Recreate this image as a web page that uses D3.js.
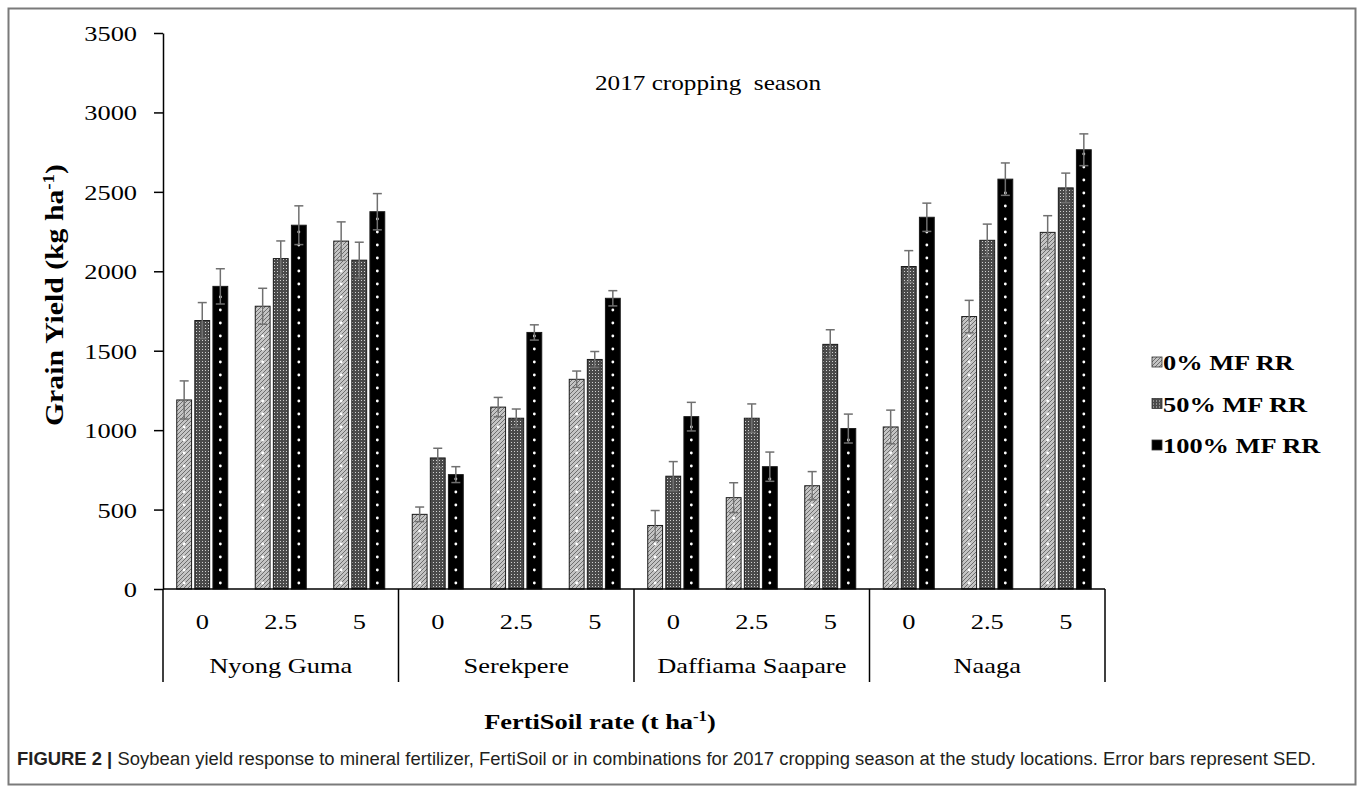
<!DOCTYPE html>
<html>
<head>
<meta charset="utf-8">
<script src="https://cdn.jsdelivr.net/npm/d3@7"></script>
<style>
  html, body { margin: 0; padding: 0; background: #fff; }
  svg { display: block; }
</style>
</head>
<body>
<svg id="chart" width="1358" height="792"></svg>
<script>
// Soybean grain yield, 2017 season, by site and FertiSoil rate
const sites = ["Nyong Guma", "Serekpere", "Daffiama Saapare", "Naaga"];
const rates = ["0", "2.5", "5"];
const seriesNames = ["0% MF RR", "50% MF RR", "100% MF RR"];

// grain yield (kg/ha), in site-by-rate order
const yield0 = [1190, 1780, 2190, 470, 1145, 1320, 400, 575, 650, 1020, 1715, 2245];
const yield50 = [1690, 2080, 2070, 825, 1075, 1445, 710, 1075, 1540, 2030, 2195, 2525];
const yield100 = [1905, 2290, 2375, 720, 1615, 1830, 1085, 770, 1010, 2340, 2580, 2765];

// SED error bars
const sed0 = [120, 113, 121, 46, 61, 52, 94, 94, 89, 106, 102, 105];
const sed50 = [113, 111, 113, 61, 58, 50, 92, 90, 92, 100, 102, 93];
const sed100 = [111, 122, 114, 50, 48, 48, 90, 92, 91, 89, 102, 100];

const yTicks = [0, 500, 1000, 1500, 2000, 2500, 3000, 3500];

const serif = "'Liberation Serif', 'Times New Roman', serif";
const sx = 1.2; // horizontal stretch of the lettering

const svg = d3.select("#chart");

// frame
svg.append("rect")
  .attr("x", 8.5).attr("y", 8.5).attr("width", 1347).attr("height", 776)
  .attr("fill", "none").attr("stroke", "#7a7a7a").attr("stroke-width", 2);

// fill patterns
const defs = svg.append("defs");
const p0 = defs.append("pattern").attr("id", "pat0").attr("patternUnits", "userSpaceOnUse")
  .attr("width", 4).attr("height", 4);
p0.append("rect").attr("width", 4).attr("height", 4).attr("fill", "#c4c4c4");
p0.append("path").attr("d", "M0,4 L4,0 M-1,1 L1,-1 M3,5 L5,3").attr("stroke", "#6e6e6e").attr("stroke-width", 1);

const p1 = defs.append("pattern").attr("id", "pat1").attr("patternUnits", "userSpaceOnUse")
  .attr("width", 3).attr("height", 3);
p1.append("rect").attr("width", 3).attr("height", 3).attr("fill", "#4a4a4a");
p1.append("rect").attr("x", 1).attr("y", 1).attr("width", 1).attr("height", 1).attr("fill", "#d0d0d0");

const fills = ["url(#pat0)", "url(#pat1)", "#000"];
const dotColumn = [true, false, true];

// layout
const x0 = 163, x1 = 1105, yBase = 589, yTop = 33;

const keys = [];
sites.forEach(s => rates.forEach(r => keys.push(s + "|" + r)));

const xSlot = d3.scaleBand().domain(keys).range([x0, x1]).paddingInner(0).paddingOuter(0);
const xSite = d3.scaleBand().domain(sites).range([x0, x1]);
const xSeries = d3.scaleBand().domain(seriesNames).range([-25.5, 25.5]).paddingInner(0.18);
const y = d3.scaleLinear().domain([0, 3500]).range([yBase, yTop]);

const seriesValues = [yield0, yield50, yield100];
const seriesErr = [sed0, sed50, sed100];

const rows = [];
seriesNames.forEach((name, si) => {
  keys.forEach((k, i) => {
    rows.push({ series: name, si, key: k, value: seriesValues[si][i], err: seriesErr[si][i] });
  });
});

const bw = xSeries.bandwidth();
const barX = d => xSlot(d.key) + xSlot.bandwidth() / 2 + xSeries(d.series);

const plot = svg.append("g");

plot.selectAll("rect.bar").data(rows).join("rect")
  .attr("class", "bar")
  .attr("x", barX)
  .attr("y", d => y(d.value))
  .attr("width", bw)
  .attr("height", d => y(0) - y(d.value))
  .attr("fill", d => fills[d.si])
  .attr("stroke", "#1a1a1a")
  .attr("stroke-width", 1);

// white dot columns inside the patterned bars
rows.filter(d => dotColumn[d.si]).forEach(d => {
  const cx = barX(d) + bw / 2;
  const h = y(0) - y(d.value);
  const dots = d3.range(6, h - 3, 13);
  plot.selectAll(null).data(dots).join("circle")
    .attr("cx", cx).attr("cy", v => y(0) - v)
    .attr("r", 1.4).attr("fill", "#fff");
});

// error bars
const eb = plot.selectAll("g.err").data(rows).join("g").attr("class", "err")
  .attr("stroke", "#707070").attr("stroke-width", 1.5);
eb.append("line")
  .attr("x1", d => barX(d) + bw / 2).attr("x2", d => barX(d) + bw / 2)
  .attr("y1", d => y(d.value - d.err)).attr("y2", d => y(d.value + d.err));
eb.append("line")
  .attr("x1", d => barX(d) + bw / 2 - 4.5).attr("x2", d => barX(d) + bw / 2 + 4.5)
  .attr("y1", d => y(d.value + d.err)).attr("y2", d => y(d.value + d.err));
eb.append("line")
  .attr("x1", d => barX(d) + bw / 2 - 4.5).attr("x2", d => barX(d) + bw / 2 + 4.5)
  .attr("y1", d => y(d.value - d.err)).attr("y2", d => y(d.value - d.err));

// y axis
const yAxis = svg.append("g")
  .attr("transform", `translate(${x0},0)`)
  .call(d3.axisLeft(y).tickValues(yTicks).tickSize(9).tickSizeOuter(0).tickPadding(0).tickFormat(d3.format("d")));
yAxis.select(".domain").attr("stroke", "#000").attr("stroke-width", 1.5);
yAxis.selectAll(".tick line").attr("stroke", "#000").attr("stroke-width", 1.5);
yAxis.selectAll(".tick text")
  .attr("font-family", serif).attr("font-size", 22).attr("fill", "#000")
  .attr("x", -26 / sx).attr("dy", "0.34em")
  .attr("transform", `scale(${sx},1)`);

// category axis: rate labels
const xAxis = svg.append("g")
  .attr("transform", `translate(0,${yBase})`)
  .call(d3.axisBottom(xSlot).tickSize(0).tickPadding(0).tickFormat(k => k.split("|")[1]));
xAxis.select(".domain").remove();
svg.append("line").attr("x1", x0).attr("x2", x1).attr("y1", yBase).attr("y2", yBase)
  .attr("stroke", "#000").attr("stroke-width", 1.5);
xAxis.selectAll(".tick text")
  .attr("font-family", serif).attr("font-size", 22).attr("fill", "#000")
  .attr("y", 0).attr("dy", 0)
  .attr("transform", `translate(0,40) scale(${sx},1)`);

// category axis: site labels
const siteAxis = svg.append("g")
  .attr("transform", `translate(0,${yBase})`)
  .call(d3.axisBottom(xSite).tickSize(0).tickPadding(0));
siteAxis.select(".domain").remove();
siteAxis.selectAll(".tick text")
  .attr("font-family", serif).attr("font-size", 22).attr("fill", "#000")
  .attr("y", 0).attr("dy", 0)
  .attr("transform", `translate(0,84) scale(${sx},1)`);

// group dividers
const edges = sites.map(s => xSite(s)).concat([x1]);
svg.selectAll("line.div").data(edges).join("line").attr("class", "div")
  .attr("x1", d => d).attr("x2", d => d)
  .attr("y1", yBase).attr("y2", yBase + 93)
  .attr("stroke", "#000").attr("stroke-width", 1.5);

// season label
svg.append("text")
  .attr("transform", `translate(708,90) scale(${sx},1)`)
  .attr("text-anchor", "middle")
  .attr("font-family", serif).attr("font-size", 21).attr("fill", "#000")
  .attr("xml:space", "preserve")
  .text("2017 cropping  season");

// y axis title
const yt = svg.append("text")
  .attr("transform", "translate(63,295) rotate(-90)")
  .attr("text-anchor", "middle")
  .attr("font-family", serif).attr("font-size", 25).attr("font-weight", "bold").attr("fill", "#000")
  .attr("textLength", 262).attr("lengthAdjust", "spacingAndGlyphs");
yt.append("tspan").text("Grain Yield (kg ha");
yt.append("tspan").attr("dy", -9).attr("font-size", 16).text("-1");
yt.append("tspan").attr("dy", 9).text(")");

// x axis title
const xt = svg.append("text")
  .attr("transform", `translate(600,729) scale(${sx},1)`)
  .attr("text-anchor", "middle")
  .attr("font-family", serif).attr("font-size", 22).attr("font-weight", "bold").attr("fill", "#000");
xt.append("tspan").text("FertiSoil rate (t ha");
xt.append("tspan").attr("dy", -8).attr("font-size", 14).text("-1");
xt.append("tspan").attr("dy", 8).text(")");

// legend
const legend = svg.append("g").attr("transform", "translate(1152,370)");
const li = legend.selectAll("g").data(seriesNames).join("g")
  .attr("transform", (d, i) => `translate(0,${i * 41.5})`);
li.append("rect")
  .attr("x", 0).attr("y", -13).attr("width", 10).attr("height", 10)
  .attr("fill", (d, i) => fills[i]).attr("stroke", "#333").attr("stroke-width", 0.8);
li.append("text")
  .attr("transform", `translate(11,0) scale(${sx},1)`)
  .attr("font-family", serif).attr("font-size", 22).attr("font-weight", "bold").attr("fill", "#000")
  .text(d => d);

// caption
const cap = svg.append("text")
  .attr("x", 17).attr("y", 765)
  .attr("font-family", "'Liberation Sans Narrow', 'Liberation Sans', Arial, sans-serif")
  .attr("font-size", 18).attr("fill", "#231f20")
  .attr("textLength", 1299).attr("lengthAdjust", "spacingAndGlyphs");
cap.append("tspan").attr("font-weight", "bold").text("FIGURE 2 | ");
cap.append("tspan").text("Soybean yield response to mineral fertilizer, FertiSoil or in combinations for 2017 cropping season at the study locations. Error bars represent SED.");
</script>
</body>
</html>
